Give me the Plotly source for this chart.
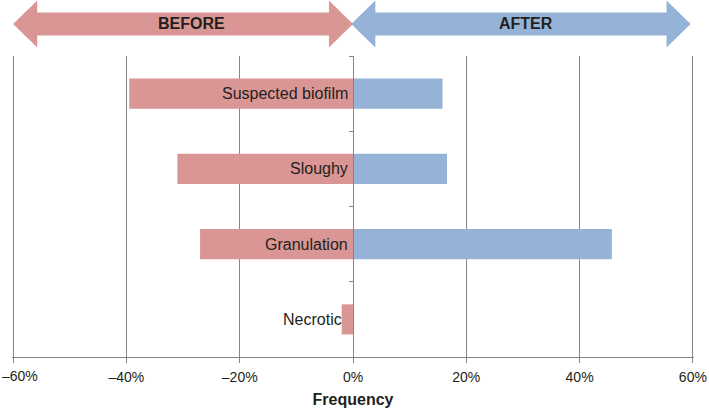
import plotly.graph_objects as go

categories = ['Suspected biofilm', 'Sloughy', 'Granulation', 'Necrotic']
before = [-39.5, -31, -27, -2]
after = [15.8, 16.6, 45.7, 0]
tick_vals = [-60, -40, -20, 0, 20, 40, 60]
tick_text = ['\u201360%', '\u201340%', '\u201320%', '0%', '20%', '40%', '60%']

PINK = '#DA9694'
BLUE = '#95B3D7'
GRID = '#858585'
TXT = '#231f20'
FONT = 'Liberation Sans, Arial, Helvetica, sans-serif'

W, H = 709, 408
ML, MR, MT, MB = 12.4, 14.9, 55.5, 51
plot_h = H - MT - MB
plot_w = W - ML - MR


def py(px):
    # pixel row (from top of page) -> paper y
    return 1 + (MT - px) / plot_h


fig = go.Figure()

fig.add_trace(go.Bar(
    y=categories, x=before, orientation='h',
    marker=dict(color=PINK, line=dict(width=0)),
    name='Before', showlegend=False, hoverinfo='x+y'
))
fig.add_trace(go.Bar(
    y=categories, x=after, orientation='h',
    marker=dict(color=BLUE, line=dict(width=0)),
    name='After', showlegend=False, hoverinfo='x+y'
))

# category labels next to the zero line
for cat, b in zip(categories, before):
    small = abs(b) < 5
    fig.add_annotation(
        x=b if small else 0, y=cat, xref='x', yref='y',
        text=cat, showarrow=False, xanchor='right', yanchor='middle',
        xshift=2 if small else -3,
        font=dict(family=FONT, size=16, color=TXT)
    )


def arrow(x0, x1, color):
    head = 4.25  # arrow head length in axis units
    yt, yb = py(0), py(47)
    st, sb = py(12), py(35)
    ym = py(23.5)
    path = (f'M {x0},{ym} L {x0 + head},{yt} L {x0 + head},{st} '
            f'L {x1 - head},{st} L {x1 - head},{yt} L {x1},{ym} '
            f'L {x1 - head},{yb} L {x1 - head},{sb} L {x0 + head},{sb} '
            f'L {x0 + head},{yb} Z')
    fig.add_shape(type='path', path=path, xref='x', yref='paper',
                  fillcolor=color, line=dict(width=0), layer='above')


arrow(-60, 0, PINK)
arrow(-0.3, 59.6, BLUE)

fig.add_annotation(x=-28.5, y=py(22.5), xref='x', yref='paper', text='<b>BEFORE</b>',
                   showarrow=False, yanchor='middle',
                   font=dict(family=FONT, size=16, color=TXT))
fig.add_annotation(x=30.5, y=py(22.5), xref='x', yref='paper', text='<b>AFTER</b>',
                   showarrow=False, yanchor='middle',
                   font=dict(family=FONT, size=16, color=TXT))

# leftmost tick label is pushed inside the page edge, as in the original
fig.add_annotation(x=-ML / plot_w, y=py(376.5), xref='paper', yref='paper',
                   text=tick_text[0], showarrow=False, xanchor='left', yanchor='middle',
                   font=dict(family=FONT, size=14, color=TXT))

fig.update_layout(
    width=W, height=H,
    margin=dict(l=ML, r=MR, t=MT, b=MB, autoexpand=False),
    barmode='relative', bargap=0.6,
    plot_bgcolor='white', paper_bgcolor='white',
    font=dict(family=FONT, color=TXT),
    xaxis=dict(
        range=[-60.2, 60.2], tickmode='array', tickvals=tick_vals,
        ticktext=[''] + tick_text[1:],
        showgrid=True, gridcolor=GRID, gridwidth=1, zeroline=False,
        showline=True, linecolor=GRID, linewidth=1,
        ticks='outside', ticklen=5, tickcolor=GRID,
        ticklabelstandoff=2, ticklabeloverflow='allow',
        tickfont=dict(family=FONT, size=14, color=TXT),
        title=dict(text='<b>Frequency</b>', font=dict(family=FONT, size=16, color=TXT),
                   standoff=10),
        automargin=False, fixedrange=True
    ),
    yaxis=dict(
        type='category', autorange='reversed',
        anchor='free', position=0.5,
        showline=True, linecolor=GRID, linewidth=1,
        ticks='outside', ticklen=4, tickcolor=GRID, tickson='boundaries',
        showticklabels=False, showgrid=False, zeroline=False,
        automargin=False, fixedrange=True
    ),
)

fig.write_html('out.html', config={'displayModeBar': False},
               post_script="document.body.style.margin='0';document.body.style.overflow='hidden';")
